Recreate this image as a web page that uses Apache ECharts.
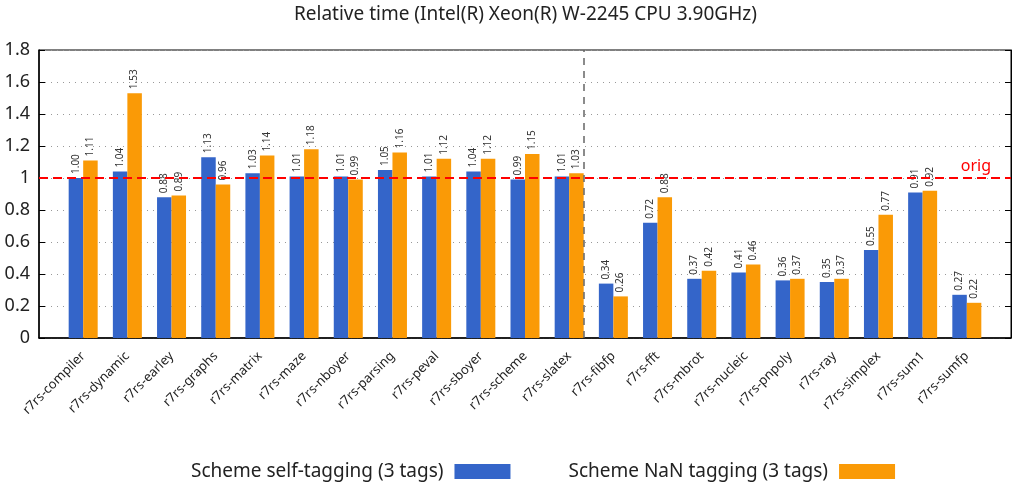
<!DOCTYPE html>
<html>
<head>
<meta charset="utf-8" />
<title>relative time</title>
<script src="https://cdn.jsdelivr.net/npm/echarts@6/dist/echarts.min.js"></script>
<style>
  html, body { margin: 0; padding: 0; background: #fff; }
  #main { width: 1016px; height: 489px; }
</style>
</head>
<body>
<div id="main"></div>
<script>
// benchmarks (x axis)
var categories = ['r7rs-compiler', 'r7rs-dynamic', 'r7rs-earley', 'r7rs-graphs', 'r7rs-matrix',
  'r7rs-maze', 'r7rs-nboyer', 'r7rs-parsing', 'r7rs-peval', 'r7rs-sboyer', 'r7rs-scheme',
  'r7rs-slatex', 'r7rs-fibfp', 'r7rs-fft', 'r7rs-mbrot', 'r7rs-nucleic', 'r7rs-pnpoly',
  'r7rs-ray', 'r7rs-simplex', 'r7rs-sum1', 'r7rs-sumfp'];
var selfTagging = [1.00, 1.04, 0.88, 1.13, 1.03, 1.01, 1.01, 1.05, 1.01, 1.04, 0.99,
  1.01, 0.34, 0.72, 0.37, 0.41, 0.36, 0.35, 0.55, 0.91, 0.27];
var nanTagging = [1.11, 1.53, 0.89, 0.96, 1.14, 1.18, 0.99, 1.16, 1.12, 1.12, 1.15,
  1.03, 0.26, 0.88, 0.42, 0.46, 0.37, 0.37, 0.77, 0.92, 0.22];
var yTicks = [0, 0.2, 0.4, 0.6, 0.8, 1, 1.2, 1.4, 1.6, 1.8];
var origValue = 1;
var separatorAt = 11.5; // between slatex and fibfp

var FONT = 'Noto Sans';

function pairs(arr) {
  return arr.map(function(v, i) { return [i, v]; });
}

var barLabel = {
  show: true,
  position: 'top',
  rotate: 90,
  align: 'left',
  verticalAlign: 'middle',
  distance: 4,
  fontFamily: FONT,
  fontSize: 10,
  color: '#333',
  formatter: function(p) { return p.value[1].toFixed(2); }
};

var chart = echarts.init(document.getElementById('main'));
chart.setOption({
  animation: false,
  title: {
    text: 'Relative time (Intel(R) Xeon(R) W-2245 CPU 3.90GHz)',
    left: 289,
    top: 0,
    textStyle: { fontFamily: FONT, fontSize: 19, fontWeight: 'normal', color: '#222' }
  },
  grid: {
    left: 39, right: 5, top: 50, bottom: 151,
    show: true, borderColor: '#000', borderWidth: 1
  },
  legend: {
    left: 186,
    top: 457,
    align: 'right',
    itemWidth: 56,
    itemHeight: 15,
    itemGap: 58,
    icon: 'rect',
    textStyle: { fontFamily: FONT, fontSize: 19, color: '#222', padding: [0, 6, 0, 0] },
    data: ['Scheme self-tagging (3 tags)', 'Scheme NaN tagging (3 tags)']
  },
  xAxis: {
    type: 'value',
    min: -1,
    max: 21,
    interval: 1,
    splitLine: { show: false },
    axisLine: { lineStyle: { color: '#000', width: 1.5 } },
    axisTick: { show: false },
    axisLabel: {
      rotate: 45,
      fontFamily: FONT,
      fontSize: 13,
      color: '#222',
      margin: 16,
      formatter: function(v) { return categories[v] || ''; }
    }
  },
  yAxis: [{
    type: 'value',
    min: yTicks[0],
    max: yTicks[yTicks.length - 1],
    interval: 0.2,
    axisLine: { show: true, onZero: false, lineStyle: { color: '#000', width: 1.5 } },
    axisTick: { show: true, inside: true, length: 6, lineStyle: { color: '#000' } },
    axisLabel: { fontFamily: FONT, fontSize: 18, color: '#222', margin: 9 },
    splitLine: { show: true, lineStyle: { color: '#999', type: [1, 5], width: 1 } }
  }, {
    type: 'value',
    position: 'right',
    min: yTicks[0],
    max: yTicks[yTicks.length - 1],
    interval: 0.2,
    axisLine: { show: true, onZero: false, lineStyle: { color: '#000' } },
    axisTick: { show: true, inside: true, length: 6, lineStyle: { color: '#000' } },
    axisLabel: { show: false },
    splitLine: { show: false }
  }],
  series: [{
    name: 'Scheme self-tagging (3 tags)',
    type: 'bar',
    data: pairs(selfTagging),
    barWidth: 14.5,
    barGap: '0%',
    itemStyle: { color: '#3465c9' },
    label: barLabel,
    markLine: {
      symbol: 'none',
      silent: true,
      data: [{
        xAxis: separatorAt,
        lineStyle: { color: '#666', type: [7, 6], width: 1.5 },
        label: { show: false }
      }, {
        yAxis: origValue,
        lineStyle: { color: '#ff0000', type: [9, 5], width: 2 },
        label: {
          show: true,
          formatter: 'orig',
          position: 'insideEndTop',
          distance: [20, 4],
          fontFamily: FONT,
          fontSize: 16,
          color: '#ff0000'
        }
      }]
    }
  }, {
    name: 'Scheme NaN tagging (3 tags)',
    type: 'bar',
    data: pairs(nanTagging),
    barWidth: 14.5,
    barGap: '0%',
    itemStyle: { color: '#fa9a06' },
    label: barLabel
  }]
});

window.onresize = function() {
  chart.resize();
};
</script>
</body>
</html>
